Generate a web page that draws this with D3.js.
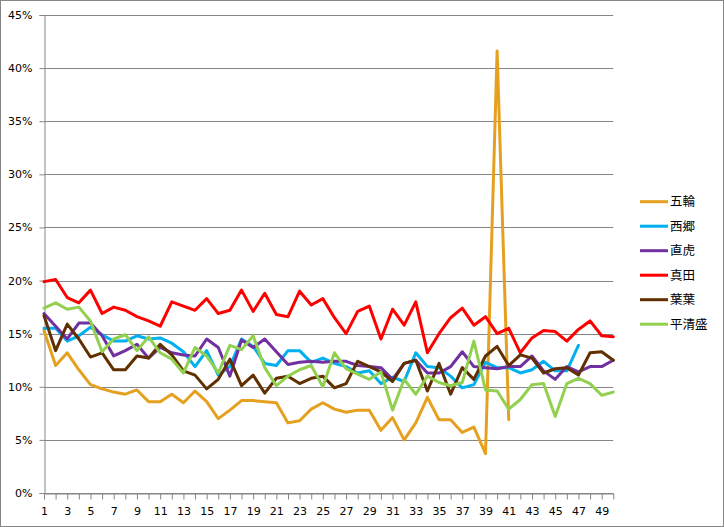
<!DOCTYPE html>
<html><head><meta charset="utf-8">
<script src="https://cdn.jsdelivr.net/npm/d3@7"></script>
<style>html,body{margin:0;padding:0;background:#fff;}svg{display:block;}</style>
</head><body><svg id="c" width="724" height="527"></svg>
<script>
const categories = d3.range(1, 51);
const seriesNames = ["五輪","西郷","直虎","真田","葉葉","平清盛"];
const seriesColors = ["#E6A020","#00B0F0","#7030A0","#FF0000","#603000","#92D050"];
const gorin = [15.3,12.0,13.2,11.6,10.2,9.8,9.5,9.3,9.7,8.6,8.6,9.3,8.5,9.6,8.6,7.0,7.8,8.7,8.7,8.6,8.5,6.6,6.8,7.9,8.5,7.9,7.6,7.8,7.8,5.9,7.1,5.0,6.6,9.0,6.9,6.9,5.7,6.2,3.7,41.6,6.9];
const saigo = [15.5,15.5,14.3,14.8,15.6,14.9,14.3,14.3,14.8,14.5,14.6,14.1,13.3,11.9,13.4,11.1,11.9,14.5,13.8,12.2,12.0,13.4,13.4,12.3,12.7,12.2,11.9,11.3,11.5,10.3,10.9,10.5,13.2,11.9,11.8,11.0,9.9,10.2,12.3,11.8,11.8,11.3,11.6,12.4,11.5,11.5,13.9];
const naotora = [16.9,15.7,14.5,16.0,16.0,14.8,12.9,13.4,14.0,12.7,13.7,13.2,13.0,12.9,14.5,13.7,11.0,14.4,13.7,14.5,13.3,12.1,12.3,12.4,12.3,12.4,12.4,12.0,11.9,11.8,10.7,12.2,12.5,11.3,11.3,11.9,13.3,11.9,11.8,11.7,11.9,11.9,12.9,11.5,10.7,11.9,11.4,11.9,11.9,12.5];
const sanada = [19.9,20.1,18.4,17.9,19.1,16.9,17.5,17.2,16.6,16.2,15.7,18.0,17.6,17.2,18.3,16.9,17.2,19.1,17.1,18.8,16.8,16.6,19.0,17.7,18.3,16.5,15.0,17.1,17.6,14.5,17.3,15.8,18.0,13.2,15.0,16.5,17.4,15.8,16.6,15.0,15.5,13.2,14.6,15.3,15.2,14.3,15.4,16.2,14.8,14.7];
const youyou = [16.7,13.4,15.9,14.5,12.8,13.2,11.6,11.6,12.9,12.7,14.0,13.0,11.5,11.1,9.8,10.7,12.6,10.1,11.1,9.4,10.8,11.0,10.3,10.8,11.0,9.9,10.3,12.4,11.9,11.4,10.5,12.2,12.5,9.6,12.2,9.3,11.8,10.7,12.9,13.8,12.0,13.0,12.7,11.3,11.7,11.8,11.1,13.2,13.3,12.5];
const kiyomori = [17.4,17.9,17.3,17.5,16.2,13.3,14.5,14.9,13.4,14.7,13.2,12.6,11.3,13.7,12.9,11.3,13.9,13.5,14.8,11.8,10.1,11.0,11.6,12.0,10.0,13.2,11.7,11.2,10.7,11.4,7.8,10.7,9.3,11.0,10.4,10.1,10.4,14.3,9.7,9.6,7.9,8.8,10.2,10.3,7.2,10.3,10.8,10.3,9.2,9.5];
const yTicks = [0,5,10,15,20,25,30,35,40,45];
const allSeries = [gorin, saigo, naotora, sanada, youyou, kiyomori];

const svg = d3.select("#c");
const axisColor = "#868686";
const x = d3.scalePoint().domain(categories).range([44, 613.3]).padding(0);
const y = d3.scaleLinear().domain([0, 45]).range([493, 15]);

svg.append("rect").attr("x",0.5).attr("y",0.5).attr("width",723).attr("height",526)
  .attr("fill","#fff").attr("stroke",axisColor).attr("stroke-width",1);

// gridlines
svg.append("g").selectAll("line").data(yTicks).join("line")
  .attr("x1",44).attr("x2",613.3)
  .attr("y1",d=>Math.round(y(d))+0.5).attr("y2",d=>Math.round(y(d))+0.5)
  .attr("stroke",axisColor).attr("stroke-width",1);

// y axis
const yAxis = svg.append("g").attr("transform","translate(44.5,0)")
  .call(d3.axisLeft(y).tickValues(yTicks).tickSize(5).tickPadding(7).tickFormat(d=>d+"%"));
yAxis.select(".domain").attr("stroke",axisColor);
yAxis.selectAll(".tick line").attr("stroke",axisColor);
yAxis.selectAll(".tick text").attr("font-family","DejaVu Sans, Verdana, sans-serif").attr("font-size","11px").attr("fill","#000");

// x axis
const xAxis = svg.append("g").attr("transform","translate(0,493.5)")
  .call(d3.axisBottom(x).tickSize(6).tickPadding(8).tickSizeOuter(0).tickFormat(d=>d%2===1?d:""));
xAxis.select(".domain").attr("stroke",axisColor);
xAxis.selectAll(".tick line").attr("stroke",axisColor);
xAxis.selectAll(".tick text").attr("font-family","DejaVu Sans, Verdana, sans-serif").attr("font-size","11px").attr("fill","#000");

// lines
const line = d3.line().x((d,i)=>x(categories[i])).y(d=>y(d));
allSeries.forEach((s,k)=>{
  svg.append("path").datum(s).attr("d",line).attr("fill","none")
    .attr("stroke",seriesColors[k]).attr("stroke-width",3)
    .attr("stroke-linejoin","round").attr("stroke-linecap","round");
});

// legend
const lg = svg.append("g");
seriesNames.forEach((n,k)=>{
  const ly = 201.7 + k*24.5;
  lg.append("line").attr("x1",640).attr("x2",668).attr("y1",ly).attr("y2",ly)
    .attr("stroke",seriesColors[k]).attr("stroke-width",3);
  lg.append("text").attr("x",670).attr("y",ly).attr("dy","0.36em")
    .attr("font-family","Noto Sans CJK JP, sans-serif").attr("font-size","12.5px").attr("fill","#000").text(n);
});
</script></body></html>
